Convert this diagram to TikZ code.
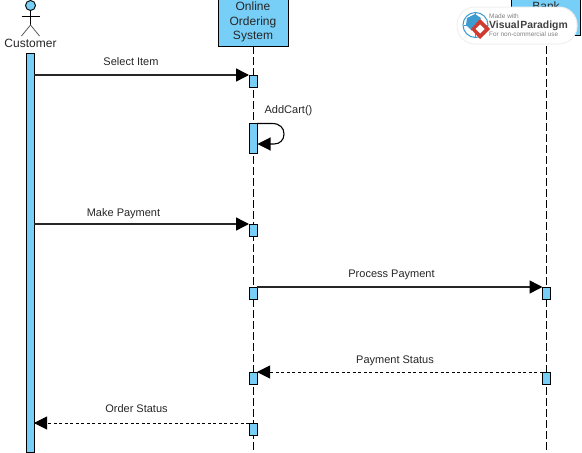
\documentclass[tikz,border=0pt]{standalone}
\usepackage{fontspec}
\setmainfont{Liberation Sans}
\usetikzlibrary{arrows.meta}
\definecolor{vpblue}{HTML}{77CFF8}
\definecolor{linegray}{HTML}{262626}
\definecolor{vpred}{HTML}{D03A30}
\definecolor{vpglobe}{HTML}{3E9BD0}
\tikzset{
  x=1pt,y=-1pt,
  actbar/.style={draw=black,line width=1pt,fill=vpblue,minimum width=8pt,inner sep=0pt,outer sep=0pt,anchor=north},
  headbox/.style={draw=black,line width=1pt,fill=vpblue,inner sep=0pt,outer sep=0pt,anchor=north west},
  lifeline/.style={line width=1pt,dash pattern=on 8pt off 3pt},
  msg/.style={line width=1.5pt,draw=linegray,-{Triangle[length=13pt,width=13pt,fill=black,color=black]}},
  ret/.style={line width=1pt,draw=black,dash pattern=on 3pt off 2.5pt,-{Triangle[length=13pt,width=13pt,fill=black,color=black]}},
  msglabel/.style={font=\fontsize{11}{12}\selectfont,text=linegray,inner sep=0pt},
  stick/.style={line width=0.8pt,draw=black},
}
\begin{document}
\begin{tikzpicture}
\useasboundingbox (0,0) rectangle (582,453);
\clip (0,0) rectangle (582,453);
% headers
\node[headbox,minimum width=70pt,minimum height=46.5pt] (sys) at (218,-0.5) {};
\node[font=\fontsize{12}{15}\selectfont,text=linegray,align=center,inner sep=0pt] (systxt) at (253,22) {Online\\[-0.5pt]Ordering\\[-0.5pt]System};
\node[headbox,minimum width=69pt,minimum height=36pt] (bank) at (511,-1) {};
\node[font=\fontsize{12}{15}\selectfont,text=linegray,inner sep=0pt] (banktxt) at (546,6.5) {Bank};
% lifelines
\coordinate (sysend) at (253,453);
\coordinate (bankend) at (546.5,453);
\draw[lifeline] (sys.south) -- (sysend);
\draw[lifeline] (bank.south -| bankend) -- (bankend);
% actor
\node[circle,draw=black,line width=0.9pt,fill=vpblue,minimum size=10pt,inner sep=0pt] (head) at (30.5,5.5) {};
\coordinate (hip) at (30.5,25);
\coordinate (armL) at (21.5,16);
\coordinate (armR) at (39.5,16);
\coordinate (legL) at (21.5,36);
\coordinate (legR) at (39.5,36);
\draw[stick] (head.south) -- (hip);
\draw[stick] (armL) -- (armR);
\draw[stick,draw=gray!70!black] (legL) -- (hip) -- (legR);
\node[font=\fontsize{12}{14}\selectfont,text=linegray,inner sep=0pt] (custlbl) at (30.5,43) {Customer};
% activation bars
\node[actbar,minimum height=399pt] (cust) at (30,53) {};
\node[actbar,minimum height=12pt] (a1) at (253,75) {};
\node[actbar,minimum height=29.5pt] (a2) at (253,123.5) {};
\node[actbar,minimum height=12.5pt] (a3) at (253,224) {};
\node[actbar,minimum height=12pt] (a4) at (253,287) {};
\node[actbar,minimum height=12pt] (b1) at (546.5,287) {};
\node[actbar,minimum height=12pt] (a5) at (253,372) {};
\node[actbar,minimum height=12pt] (b2) at (546.5,372) {};
\node[actbar,minimum height=12.5pt] (a6) at (253,423) {};
% messages
\draw[msg] (cust.east |- a1.north) -- (a1.north west);
\draw[msg] (cust.east |- a3.north) -- (a3.north west);
\draw[msg] (a4.north east) -- (b1.north west);
\draw[ret] (b2.north west) -- (a5.north east);
\draw[ret] (a6.north west) -- (cust.east |- a6.north);
\coordinate (sa) at (a2.north east);
\coordinate (sb) at (257.5,144);
\draw[line width=1.1pt,draw=black,-{Triangle[length=13pt,width=13pt,fill=black,color=black]}]
  (sa) -- (272,123.5) .. controls (280,123.5) and (284,128) .. (284,134) .. controls (284,140) and (280,144) .. (274,144) -- (sb);
% labels
\node[msglabel] (l1) at (131,62) {Select Item};
\node[msglabel] (l2) at (288.5,111) {AddCart()};
\node[msglabel] (l3) at (123.5,214) {Make Payment};
\node[msglabel] (l4) at (391.5,275) {Process Payment};
\node[msglabel] (l5) at (395,361) {Payment Status};
\node[msglabel] (l6) at (136.5,409) {Order Status};
% watermark
\node[draw=black!6,line width=1pt,fill=white,rounded corners=18pt,minimum width=120pt,minimum height=37pt,inner sep=0pt] (wm) at (517,25.5) {};
\node[circle,draw=vpglobe,line width=1pt,fill=white,minimum size=25pt,inner sep=0pt] (globe) at (475.5,25) {};
\fill[vpglobe] (467,18) -- (475,14) -- (481,18) -- (476,24) -- (472,31) -- (466,25) -- cycle;
\draw[vpglobe,line width=0.5pt] (463.5,25) -- (487.5,25) (475.5,13) -- (475.5,37);
\fill[vpred] (480,19) -- (490,29) -- (480,39) -- (471,29) -- cycle;
\fill[white] (480,24.5) -- (484.5,29) -- (480,33.5) -- (475.5,29) -- cycle;
\node[font=\fontsize{6.5}{7}\selectfont,text=black!50,inner sep=0pt,anchor=west] (wm1) at (489,16) {Made with};
\node[font=\bfseries\fontsize{10.4}{11}\selectfont,text=black!75,inner sep=0pt,anchor=west] (wm2) at (489,25.5) {Visual\hspace{0.8pt}Paradigm};
\node[font=\fontsize{6.4}{7}\selectfont,text=black!50,inner sep=0pt,anchor=west] (wm3) at (489,34.5) {For non-commercial use};
\end{tikzpicture}
\end{document}
